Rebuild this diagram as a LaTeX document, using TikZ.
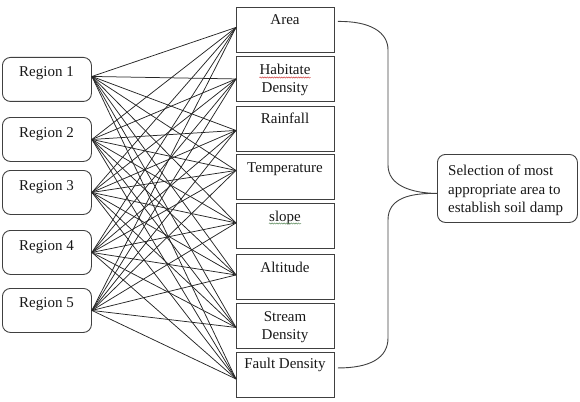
\documentclass[tikz,border=0pt]{standalone}
\usepackage{fontspec}
\setmainfont{Liberation Serif}
\newfontfamily\timesf{Liberation Serif}
\usetikzlibrary{decorations.pathmorphing}
\definecolor{boxgray}{HTML}{404040}
\definecolor{linegray}{HTML}{262626}
\definecolor{txtgray}{HTML}{181818}
\definecolor{spellred}{HTML}{D04040}
\definecolor{spellgreen}{HTML}{5A8A5A}
\begin{document}
\begin{tikzpicture}[x=1pt,y=-1pt,
  regbox/.style={draw=boxgray, line width=0.9pt, rounded corners=8pt, minimum width=89pt, minimum height=44pt, inner sep=0pt, anchor=north west},
  facbox/.style={draw=boxgray, line width=0.9pt, minimum width=98pt, minimum height=45pt, inner sep=0pt, anchor=north west},
  selbox/.style={draw=boxgray, line width=0.9pt, rounded corners=8pt, minimum width=140pt, minimum height=68pt, inner sep=0pt, anchor=north west},
  txt/.style={font=\timesf\fontsize{15}{18}\selectfont, text=txtgray, inner sep=0pt, anchor=base},
  ltxt/.style={txt, anchor=base west},
  link/.style={draw=linegray, line width=0.75pt},
  bracket/.style={draw=boxgray, line width=0.9pt},
  spell/.style={decorate, decoration={snake, amplitude=0.6pt, segment length=2.4pt}, line width=0.5pt}]
\useasboundingbox (0,0) rectangle (580,401);

% region boxes
\node[regbox] (r1) at (2,57) {};
\node[regbox] (r2) at (2,117) {};
\node[regbox] (r3) at (2,170) {};
\node[regbox] (r4) at (2,230) {};
\node[regbox] (r5) at (2,288) {};
\node[txt] (tr1) at (46.5,77) {Region 1};
\node[txt] (tr2) at (46.5,137) {Region 2};
\node[txt] (tr3) at (46.5,190) {Region 3};
\node[txt] (tr4) at (46.5,250) {Region 4};
\node[txt] (tr5) at (46.5,307) {Region 5};

% factor boxes
\node[facbox] (f1) at (236,7) {};
\node[facbox] (f2) at (236,56) {};
\node[facbox] (f3) at (236,106) {};
\node[facbox] (f4) at (236,154) {};
\node[facbox] (f5) at (236,203) {};
\node[facbox] (f6) at (236,254) {};
\node[facbox] (f7) at (236,303) {};
\node[facbox] (f8) at (236,352) {};
\node[txt] (tf1) at (285,25) {Area};
\node[txt] (tf2a) at (285,75) {Habitate};
\node[txt] (tf2b) at (285,93) {Density};
\node[txt] (tf3) at (285,123) {Rainfall};
\node[txt] (tf4) at (285,172) {Temperature};
\node[txt] (tf5) at (285,221) {slope};
\node[txt] (tf6) at (285,272) {Altitude};
\node[txt] (tf7a) at (285,321) {Stream};
\node[txt] (tf7b) at (285,339) {Density};
\node[txt] (tf8) at (285,368) {Fault Density};

% spelling marks
\draw[spell, spellred] ([yshift=-2.5pt]tf2a.base west) -- ([yshift=-2.5pt]tf2a.base east);
\draw[spell, spellgreen] ([yshift=-2.5pt]tf5.base west) -- ([yshift=-2.5pt]tf5.base east);

% selection box
\node[selbox] (sel) at (437,154) {};
\node[ltxt] (ts1) at (448,175.5) {Selection of most};
\node[ltxt] (ts2) at (448,194) {appropriate area to};
\node[ltxt] (ts3) at (448,212.5) {establish soil damp};

% connector ends
\coordinate (s1) at ([yshift=3pt]r1.east);
\coordinate (s2) at (r2.east);
\coordinate (s3) at (r3.east);
\coordinate (s4) at (r4.east);
\coordinate (s5) at (r5.east);
\coordinate (e1) at ([yshift=2.5pt]f1.west);
\coordinate (e2) at (f2.west);
\coordinate (e3) at ([yshift=-1.5pt]f3.west);
\coordinate (e4) at ([yshift=6.5pt]f4.west);
\coordinate (e5) at ([yshift=3pt]f5.west);
\coordinate (e6) at ([yshift=2pt]f6.west);
\coordinate (e7) at ([yshift=-1.5pt]f7.west);
\coordinate (e8) at ([yshift=-4pt]f8.west);

\foreach \i in {1,...,5}{
  \foreach \j in {1,...,8}{
    \draw[link] (s\i) -- (e\j);
  }
}

% bracket
\coordinate (b1) at ([xshift=3pt,yshift=8.5pt]f1.east);
\coordinate (b2) at ([xshift=3pt,yshift=7pt]f8.east);
\coordinate (tip) at ([yshift=-5pt]sel.west);
\draw[bracket] (b1) .. controls (370,21) and (388,32) .. (388,50)
  -- (388,165) .. controls (388,185) and (410,193) .. (tip)
  .. controls (410,193) and (388,198) .. (388,220)
  -- (388,338) .. controls (388,358) and (370,368) .. (b2);
\end{tikzpicture}
\end{document}
